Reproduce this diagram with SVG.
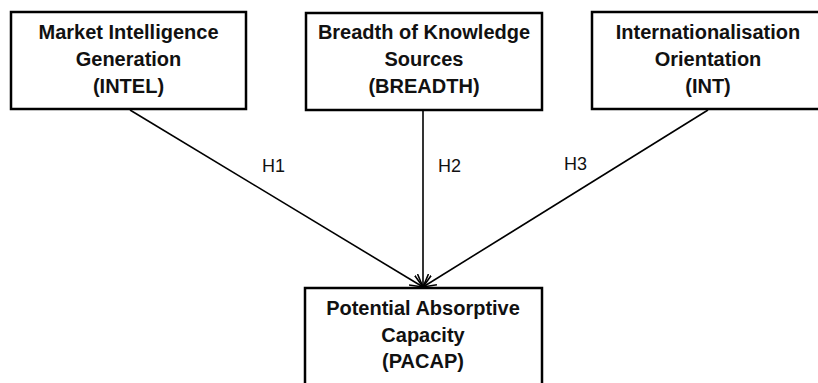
<svg xmlns="http://www.w3.org/2000/svg" width="818" height="383" viewBox="0 0 818 383">
  <style>
    .box { fill: #ffffff; stroke: #000000; stroke-width: 2.5; }
    .title { font-family: "Liberation Sans", Arial, sans-serif; font-weight: bold; font-size: 20px; fill: #111111; text-anchor: middle; }
    .label { font-family: "Liberation Sans", Arial, sans-serif; font-size: 18px; fill: #111111; }
    .edge { stroke: #000000; stroke-width: 1.6; fill: none; marker-end: url(#arrow); }
  </style>
  <defs>
    <marker id="arrow" markerUnits="userSpaceOnUse" viewBox="0 0 14 12" refX="13" refY="6" markerWidth="14" markerHeight="12" orient="auto">
      <path d="M0,0.5 L13,6 L0,11.5" fill="none" stroke="#000000" stroke-width="1.6"/>
    </marker>
  </defs>
  <rect width="818" height="383" fill="#ffffff"/>

  <g id="connectors">
    <line class="edge" x1="130" y1="110" x2="423" y2="287"/>
    <line class="edge" x1="423" y1="110" x2="423" y2="287"/>
    <line class="edge" x1="708" y1="110" x2="423" y2="287"/>
    <text class="label" x="262" y="172">H1</text>
    <text class="label" x="438" y="172">H2</text>
    <text class="label" x="564" y="170">H3</text>
  </g>

  <g id="intel">
    <rect class="box" x="11" y="12" width="235" height="97"/>
    <text class="title" x="128.5" y="39">Market Intelligence</text>
    <text class="title" x="128.5" y="66">Generation</text>
    <text class="title" x="128.5" y="93">(INTEL)</text>
  </g>

  <g id="breadth">
    <rect class="box" x="306" y="13" width="236" height="97"/>
    <text class="title" x="424" y="39">Breadth of Knowledge</text>
    <text class="title" x="424" y="66">Sources</text>
    <text class="title" x="424" y="93">(BREADTH)</text>
  </g>

  <g id="int">
    <rect class="box" x="592" y="12" width="234" height="97"/>
    <text class="title" x="708" y="39">Internationalisation</text>
    <text class="title" x="708" y="66">Orientation</text>
    <text class="title" x="708" y="93">(INT)</text>
  </g>

  <g id="pacap">
    <rect class="box" x="305" y="288" width="237" height="110"/>
    <text class="title" x="423" y="315">Potential Absorptive</text>
    <text class="title" x="423" y="342">Capacity</text>
    <text class="title" x="423" y="368">(PACAP)</text>
  </g>
</svg>
